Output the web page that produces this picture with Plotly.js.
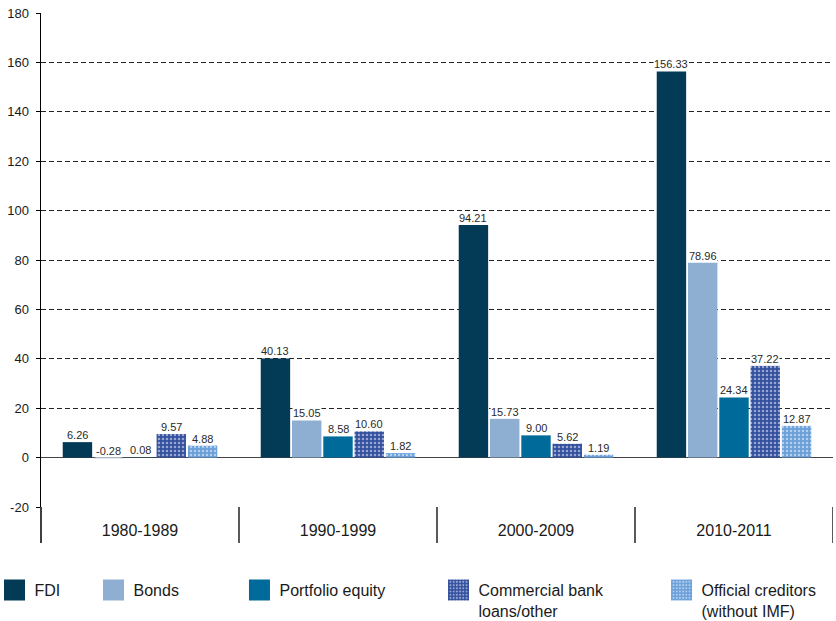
<!DOCTYPE html>
<html>
<head>
<meta charset="utf-8">
<script src="https://cdn.plot.ly/plotly-3.0.1.min.js"></script>
<style>
  html, body { margin: 0; padding: 0; background: #fff; }
  #chart { width: 836px; height: 621px; }
</style>
</head>
<body>
<div id="chart"></div>
<script>
// Net capital flows by type and decade
const categories = ['1980-1989', '1990-1999', '2000-2009', '2010-2011'];
const seriesNames = ['FDI', 'Bonds', 'Portfolio equity', 'Commercial bank<br>loans/other', 'Official creditors<br>(without IMF)'];
const fdi        = [6.26, 40.13, 94.21, 156.33];
const bonds      = [-0.28, 15.05, 15.73, 78.96];
const portfolio  = [0.08, 8.58, 9.00, 24.34];
const commercial = [9.57, 10.60, 5.62, 37.22];
const official   = [4.88, 1.82, 1.19, 12.87];
const yTicks     = [-20, 0, 20, 40, 60, 80, 100, 120, 140, 160, 180];

const series = [fdi, bonds, portfolio, commercial, official];
const colors = ['#033a56', '#8eafd1', '#006a9b', '#33509f', '#6a9fda'];
const dotted = [false, false, false, true, true];

const BARGAP = 0.21;
const slot = (1 - BARGAP) / series.length;   // width of one trace slot, in category units

const legendIds = ['legend', 'legend2', 'legend3', 'legend4', 'legend5'];
const legendX = [-0.0587, 0.0663, 0.2506, 0.5019, 0.7835];

const traces = series.map((vals, i) => {
  const marker = { color: colors[i], line: { width: 0 } };
  if (dotted[i]) {
    marker.pattern = { shape: '.', bgcolor: colors[i], fgcolor: '#ffffff', size: 4, solidity: 0.32, fillmode: 'overlay' };
  }
  return {
    type: 'bar',
    name: seriesNames[i],
    x: categories,
    y: vals,
    marker: marker,
    legend: legendIds[i],
    hoverinfo: 'skip'
  };
});

// value labels sitting on top of each bar (on the zero line for negatives)
const annotations = [];
series.forEach((vals, i) => {
  vals.forEach((v, j) => {
    annotations.push({
      x: j + (i - (series.length - 1) / 2) * slot,
      y: Math.max(v, 0),
      xref: 'x', yref: 'y',
      text: v.toFixed(2),
      showarrow: false,
      yanchor: 'bottom',
      yshift: 0,
      bgcolor: '#ffffff',
      borderpad: 0,
      font: { family: 'Liberation Sans, Arial, sans-serif', size: 11, color: '#2a2a2a' }
    });
  });
});

// category separators below the plot, plus the y axis carried down
const sepBottom = -0.073;
const shapes = [{
  type: 'line', xref: 'paper', yref: 'paper', x0: 0, x1: 0, y0: 0, y1: sepBottom,
  line: { color: '#000', width: 1.5 }
}];
categories.forEach((c, j) => {
  shapes.push({
    type: 'line', xref: 'x', yref: 'paper', x0: j + 0.5, x1: j + 0.5, y0: 0, y1: sepBottom,
    line: { color: '#000', width: 1.3 }
  });
});

const legendBase = {
  orientation: 'v',
  xanchor: 'left', yanchor: 'top',
  y: -0.1336,
  maxheight: 120,
  bgcolor: 'rgba(0,0,0,0)',
  borderwidth: 0,
  valign: 'top',
  font: { family: 'Liberation Sans, Arial, sans-serif', size: 16, color: '#1a1a1a' }
};

const layout = {
  width: 836, height: 621,
  margin: { l: 41, r: 3, t: 13, b: 114, autoexpand: false },
  paper_bgcolor: '#ffffff', plot_bgcolor: '#ffffff',
  barmode: 'group',
  bargap: BARGAP,
  bargroupgap: 0.06,
  font: { family: 'Liberation Sans, Arial, sans-serif', color: '#1a1a1a' },
  xaxis: {
    type: 'category',
    range: [-0.5, categories.length - 0.5],
    automargin: false,
    showgrid: false, showline: false, zeroline: false,
    ticks: '', ticklabelstandoff: 12,
    tickfont: { size: 16, color: '#1a1a1a' },
    fixedrange: true
  },
  yaxis: {
    range: [-20, 180],
    automargin: false,
    tickvals: yTicks,
    ticktext: yTicks.map(String),
    showline: true, linecolor: '#000', linewidth: 1.5,
    ticks: 'outside', ticklen: 4, tickcolor: '#000', tickwidth: 1,
    ticklabelstandoff: 4,
    tickfont: { size: 13, color: '#1a1a1a' },
    showgrid: true, gridcolor: '#222', gridwidth: 1, griddash: '5px,3px',
    zeroline: true, zerolinecolor: '#444', zerolinewidth: 1.6,
    fixedrange: true
  },
  annotations: annotations,
  shapes: shapes,
  showlegend: true
};
legendIds.forEach((id, i) => {
  layout[id] = Object.assign({}, legendBase, { x: legendX[i] });
});

// larger square swatches in the legends
function growSwatches(gd) {
  gd.querySelectorAll('.legendpoints path').forEach(p => p.setAttribute('d', 'M10.5,10.5H-10.5V-10.5H10.5Z'));
}

const gd = document.getElementById('chart');
Plotly.newPlot(gd, traces, layout, { displayModeBar: false, staticPlot: true }).then(() => {
  growSwatches(gd);
  setTimeout(() => growSwatches(gd), 50);
});
gd.on && gd.on('plotly_afterplot', () => growSwatches(gd));
</script>
</body>
</html>
